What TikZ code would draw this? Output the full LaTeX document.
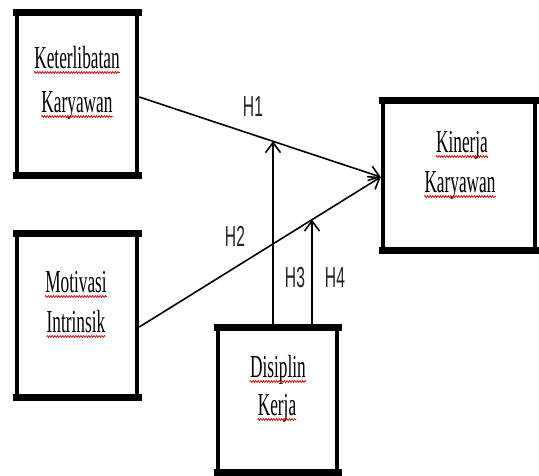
\documentclass[tikz,border=0pt]{standalone}
\usepackage{fontspec}
\usepackage{graphicx}
\setmainfont{Liberation Serif}
\newfontfamily\labelfont{Liberation Sans}
\usetikzlibrary{arrows.meta,decorations.pathmorphing,calc}

% narrow (condensed) text as set in the model figure
\newcommand\sqz[1]{\scalebox{0.54}[1]{#1}}

\tikzset{
  varbox/.style={draw=black, line width=4.5pt, fill=white, rectangle, inner sep=0pt},
  edgebar/.style={line width=7pt},
  word/.style={inner sep=0pt, anchor=base, text=black,
               font=\fontsize{32}{32}\selectfont},
  hlabel/.style={inner sep=0pt, text=black!85,
                 font=\labelfont\fontsize{29}{29}\selectfont},
  link/.style={line width=1.6pt, -{Straight Barb[length=10pt,width=15pt]}},
  squiggle/.style={draw=red!85!black, line width=0.7pt, decorate,
                   decoration={zigzag, segment length=2.6pt, amplitude=1pt}},
}

\begin{document}
\begin{tikzpicture}[x=1pt, y=-1pt]
  \useasboundingbox[fill=white] (0,0) rectangle (539,475);

  % variable boxes
  \node[varbox, minimum width=120pt, minimum height=163pt] (ket) at (77,93.5) {};
  \node[varbox, minimum width=120pt, minimum height=164pt] (mot) at (77,315) {};
  \node[varbox, minimum width=152pt, minimum height=150pt] (kin) at (459,175) {};
  \node[varbox, minimum width=119pt, minimum height=145pt] (dis) at (277.5,399.5) {};

  % heavier top and bottom edges
  \foreach \n in {ket,mot,kin,dis}{
    \draw[edgebar] ([xshift=-2.25pt,yshift=-2.25pt]\n.north west) -- ([xshift=2.25pt,yshift=-2.25pt]\n.north east);
    \draw[edgebar] ([xshift=-2.25pt,yshift=2.25pt]\n.south west) -- ([xshift=2.25pt,yshift=2.25pt]\n.south east);
  }

  % box texts
  \node[word] (t1) at (77,68)   {\sqz{Keterlibatan}};
  \node[word] (t2) at (77,112)  {\sqz{Karyawan}};
  \node[word] (t3) at (76,292)  {\sqz{Motivasi}};
  \node[word] (t4) at (76,332)  {\sqz{Intrinsik}};
  \node[word] (t5) at (462,152) {\sqz{Kinerja}};
  \node[word] (t6) at (460,192) {\sqz{Karyawan}};
  \node[word] (t7) at (278,377) {\sqz{Disiplin}};
  \node[word] (t8) at (277,415) {\sqz{Kerja}};

  % spell-check underlines
  \foreach \w in {t1,t2,t3,t4,t5,t6,t7,t8}
    \draw[squiggle] ([yshift=-4.5pt]\w.base west) -- ([yshift=-4.5pt]\w.base east);

  % connector ends
  \coordinate (h1s) at ([yshift=-3.5pt]ket.east);
  \coordinate (h2s) at ([yshift=-12pt]mot.east);
  \coordinate (hend) at ([yshift=-2pt]kin.west);
  \coordinate (v1) at ([xshift=-4.5pt,yshift=-2pt]dis.north);
  \coordinate (v2) at ([xshift=34.5pt,yshift=-2pt]dis.north);
  \coordinate (v1top) at ($(v1)+(0,-300)$);
  \coordinate (v2top) at ($(v2)+(0,-300)$);
  \coordinate (m1) at (intersection of h1s--hend and v1--v1top);
  \coordinate (m2) at (intersection of h2s--hend and v2--v2top);

  % direct effects
  \draw[link] (h1s) -- (hend);
  \draw[link] (h2s) -- (hend);
  % moderating effects
  \draw[link] (v1) -- (m1);
  \draw[link] (v2) -- (m2);

  % hypothesis labels
  \node[hlabel] (H1) at (253,107) {\sqz{H1}};
  \node[hlabel] (H2) at (235,236) {\sqz{H2}};
  \node[hlabel] (H3) at (295,278) {\sqz{H3}};
  \node[hlabel] (H4) at (335,278) {\sqz{H4}};
\end{tikzpicture}
\end{document}
